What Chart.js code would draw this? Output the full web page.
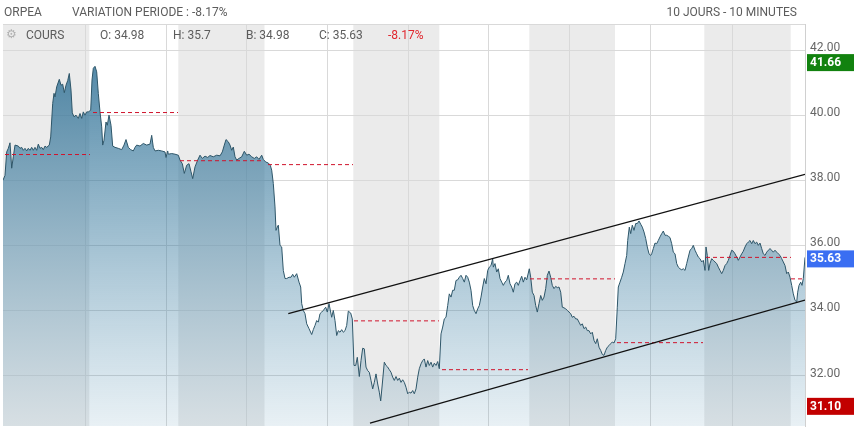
<!DOCTYPE html>
<html>
<head>
<meta charset="utf-8">
<script src="https://cdn.jsdelivr.net/npm/chart.js@4.4.1/dist/chart.umd.min.js"></script>
<style>
body{margin:0;background:#fff;font-family:Roboto,Arial,sans-serif;}
#wrap{position:relative;width:857px;height:428px;overflow:hidden;}
#wrap canvas{position:absolute;left:0;top:0;}
.lbl{position:absolute;font-size:12px;color:#5c5c5c;line-height:14px;white-space:nowrap;}
</style>
</head>
<body>
<div id="wrap">
<canvas id="myChart" width="857" height="428"></canvas>
<div class="lbl" style="left:4px;top:5px">ORPEA</div>
<div class="lbl" style="left:72px;top:5px">VARIATION PERIODE : -8.17%</div>
<div class="lbl" style="right:60px;top:5px">10 JOURS - 10 MINUTES</div>
<div class="lbl" style="left:6px;top:27px;color:#b0b0b0;font-family:'DejaVu Sans';font-size:12px">⚙</div>
<div class="lbl" style="left:26px;top:28px">COURS</div>
<div class="lbl" style="left:100px;top:28px">O: 34.98</div>
<div class="lbl" style="left:173px;top:28px">H: 35.7</div>
<div class="lbl" style="left:246px;top:28px">B: 34.98</div>
<div class="lbl" style="left:319px;top:28px">C: 35.63</div>
<div class="lbl" style="left:388px;top:28px;color:#e0262e">-8.17%</div>
</div>
<script>
// position sur l'axe du temps (barres de 10 minutes, 10 jours)
const times = [
0,2,3.7,5.3,7,8.7,10.3,12,15.3,17,
18.7,20.3,22,23.7,25.3,27,28.7,30.3,32,33.7,
35.3,37,38.7,40.3,42,43.7,46.3,47.7,49.7,51,
52,53.7,56.3,58,59.7,61.3,63,64.7,66.3,68,
69.3,71,73,75.3,77,78.7,80.3,82,83.7,85.3,
87.7,89,90.3,92,93.7,95.3,97,98.7,99.7,101,
103,104.3,106,108,109.7,112,115.3,118.7,121,123,
125.3,127.7,130.3,132,133.7,137,140.3,143.7,147,148.7,
150.3,152,155.3,158.7,162,163,164.7,165.3,168.7,172,
175.3,177,179.3,181.3,183.7,186,188,189.7,192,194.7,
197,199.3,202,204.7,207,210.3,213.7,217,219.3,221.3,
223,225.3,227,228.7,230.3,232,233.7,236,238.7,241.3,
243.7,246,248.7,251.3,253.7,256,258.7,260.3,262.7,265.3,
267.3,268.7,270.3,272,273,274.3,275.3,277,278.7,280.3,
282,283.7,286,288,289.7,291.3,293.7,296,297.7,298.7,
300.3,302,303.7,306,308.7,310.3,312,313.7,315.3,317,
318.7,320.3,322.7,324.3,326,328.7,330.3,332,333.7,335.3,
337,338.7,340.3,342,343.7,345.3,347.7,349.3,351,352.7,
354.3,356.3,358,359.7,361.3,363,364.7,366.3,368,369.7,
371.3,373,374.7,376.3,377.7,379.3,381.3,383,384.7,386.3,
388,389.7,391.3,393,394.7,396.3,398,399.7,401.3,403,
404.7,406.3,408,409.7,411.3,413,414.7,416.3,418,419.7,
421.3,423,424.7,426.3,428,429.7,431.3,433,434.7,436.3,
438,439.7,441.3,443,444.7,446.3,448,449.7,451.3,453,
454.7,456.3,458,459.7,461.3,463,464.7,466.3,468,469.7,
471.3,473,474.7,476.3,478,479.7,481.3,483,484.7,486.3,
488,489.7,490.3,492,493.7,495.3,497,498.7,500.3,502,
503.7,505.3,507,508.7,510.3,512,513.7,515.3,517,518.7,
520.3,522,523.7,526.3,527.7,529.3,531,532.7,534.3,536,
537.7,539.3,541,542.7,544.3,546,547.7,549.3,551,552.7,
554.3,556,557.7,559.3,561,562.7,564.3,566,567.7,569.3,
571,572.7,574.3,576,577.7,579.3,581,582.7,584.3,586,
587.7,589.3,591,592.7,594.3,596,597.7,599.3,601,602.7,
604.3,606,607.7,609.3,611,612.7,614.3,615.3,617,618.7,
620.3,622,623.7,624.7,626.3,627.7,629.3,631,632.7,634.3,
636,637.7,639.3,641,642.7,644.3,646,647.7,648.7,650.3,
652,653.7,655.3,657,658.7,660.3,662,663.7,665.3,667,
668.7,670.3,672,673.7,675.3,677,678.7,680.3,682,683.7,
685.3,687,688.7,690.3,692,693.7,695.3,697,698.7,700.3,
702,703,704.3,705.7,707,708.7,710.3,712,713.7,715.3,
717,718.7,720.3,722,723.7,725.3,727,728.7,730.3,732,
733.7,735.3,737,738.7,740.3,742,743.7,745.3,747,748.7,
750.3,752,753.7,755.3,757,758.7,760.3,762,763.7,765.3,
767,768.7,770.3,772,773.7,775.3,777,778.7,780.3,782,
783.7,785.3,787,788.7,790.3,792,793.7,794.7,796,797.7,
799,800.3,802
]
const prices = [
38.00,38.15,38.87,38.98,39.15,38.37,38.72,39.08,39.05,38.98,
39.01,38.92,38.98,38.90,38.98,38.92,39.01,38.92,39.01,38.92,
39.11,38.98,39.01,38.94,39.05,39.01,39.08,39.33,40.36,40.67,
40.56,40.87,41.10,40.92,40.95,40.69,40.92,41.06,41.28,40.77,
40.07,39.95,40.00,39.90,40.05,39.90,40.10,40.00,40.10,40.10,
40.15,41.08,41.44,41.50,41.33,40.67,40.10,39.64,39.08,39.23,
39.79,39.69,40.00,39.69,39.05,39.01,38.98,38.94,39.08,39.25,
39.01,38.94,38.90,39.01,39.08,39.05,39.13,39.08,39.11,39.38,
39.01,38.90,38.92,38.90,38.87,38.70,38.90,38.80,38.82,38.80,
38.77,38.62,38.51,38.21,38.46,38.51,38.26,38.05,38.41,38.62,
38.77,38.67,38.74,38.70,38.76,38.72,38.77,38.75,38.87,39.08,
39.25,39.18,39.08,38.92,39.02,38.72,38.62,38.67,38.72,38.89,
38.77,38.80,38.72,38.67,38.72,38.64,38.77,38.64,38.56,38.53,
38.46,38.31,37.90,37.18,36.46,36.56,36.62,36.00,35.95,35.23,
34.98,34.98,35.02,35.02,35.11,35.02,35.13,34.87,34.72,34.21,
34.00,33.90,33.59,33.44,33.26,33.41,33.54,33.69,33.64,33.90,
33.95,34.00,34.10,33.95,34.21,33.79,34.00,33.69,33.23,33.38,
33.33,33.41,33.33,33.38,33.54,33.98,33.92,33.74,32.31,32.31,
32.56,31.97,32.46,32.84,32.82,32.26,32.15,32.10,31.85,31.59,
31.79,32.05,31.74,31.49,31.22,31.74,32.41,32.31,32.26,32.18,
32.10,31.95,31.85,31.97,31.85,31.92,31.79,31.87,31.79,31.64,
31.44,31.49,31.46,31.54,31.44,31.59,31.95,32.21,32.36,32.46,
32.51,32.26,32.46,32.31,32.41,32.26,32.38,32.31,32.43,32.21,
33.28,33.49,33.74,33.79,34.15,34.51,34.41,34.62,34.62,34.92,
34.94,35.02,35.08,34.98,34.87,35.08,35.02,34.87,34.62,34.15,
34.00,33.90,34.05,34.15,34.41,34.72,34.98,34.82,35.23,35.33,
35.38,35.59,35.33,35.44,35.18,35.28,34.98,34.87,34.77,34.87,
34.92,35.08,34.82,34.72,34.56,34.82,34.87,34.77,34.92,35.05,
34.87,35.02,34.94,35.28,35.02,34.56,34.46,34.15,33.95,34.21,
34.46,34.31,34.41,34.67,35.08,35.21,35.02,34.77,34.67,34.74,
34.70,34.72,34.56,34.10,34.08,34.05,34.00,33.95,33.90,33.79,
33.82,33.74,33.74,33.64,33.54,33.59,33.44,33.49,33.38,33.38,
33.28,33.33,33.08,32.98,33.13,32.87,32.77,32.65,32.62,32.77,
32.87,32.92,32.98,33.03,33.00,33.13,34.10,34.72,34.87,35.02,
35.18,35.44,35.69,36.15,36.56,36.36,36.62,36.46,36.67,36.67,
36.75,36.65,36.56,36.41,36.21,35.95,35.74,35.69,35.74,35.90,
36.07,36.05,36.15,36.26,36.36,36.44,36.31,36.31,36.28,36.24,
36.05,35.79,35.74,35.44,35.33,35.28,35.25,35.28,35.23,35.44,
35.64,35.85,35.90,36.00,35.85,35.74,35.64,35.59,35.49,35.54,
35.23,35.95,35.69,35.23,35.44,35.59,35.54,35.49,35.44,35.33,
35.23,35.13,35.23,35.38,35.44,35.54,35.69,35.85,35.82,35.74,
35.64,35.54,35.64,35.74,35.82,35.95,36.05,36.10,36.15,36.05,
36.15,36.05,36.10,36.00,36.07,35.90,35.74,35.69,35.79,35.85,
35.90,35.85,35.79,35.85,35.79,35.74,35.69,35.59,35.49,35.38,
35.13,35.18,35.02,34.77,34.51,34.31,34.26,34.56,34.77,34.87,
34.77,34.98,35.63
]

// niveaux journaliers (pointillés rouges)
const levelStart = [2, 90, 177, 265, 351, 439, 527, 614, 703, 788]
const levelEnd = [87, 175, 261, 350, 436, 525, 612, 700, 788, 802]
const levelValue = [38.79, 40.08, 38.60, 38.48, 33.68, 32.18, 34.97, 33.01, 35.63, 34.97]

// canal haussier
const upperT = [285.3, 802]
const upperV = [33.90, 38.18]
const lowerT = [367, 802]
const lowerV = [30.54, 34.32]

// séances grisées
const bandStart = [0, 175.3, 350.3, 526.3, 701.3]
const bandEnd = [86.3, 261.5, 436.3, 612, 787.7]

const timeTicks = [82, 163, 244, 324, 405, 485, 566, 647, 729]
const yTicks = [32, 34, 36, 38, 40, 42]

// étiquettes de l'axe de droite
const tagValues = [41.66, 35.63, 31.10]
const tagColors = ['#12820f', '#3a6ef2', '#c20000']

const priceData = times.map((t, i) => ({x: t, y: prices[i]}))
const levelData = []
levelStart.forEach((s, i) => {
    levelData.push({x: s, y: levelValue[i]}, {x: levelEnd[i], y: levelValue[i]}, {x: levelEnd[i], y: null})
})

const backPlugin = {
    id: 'back',
    beforeDraw(chart) {
        const {ctx, chartArea: a, scales: {x}} = chart
        ctx.save()
        ctx.fillStyle = '#ebebeb'
        for (let i = 0; i < bandStart.length; i++) {
            const x0 = x.getPixelForValue(bandStart[i])
            const x1 = x.getPixelForValue(bandEnd[i])
            ctx.fillRect(x0, a.top, x1 - x0, a.bottom - a.top)
        }
        ctx.strokeStyle = '#d9d9d9'
        ctx.lineWidth = 1
        ctx.beginPath()
        ctx.moveTo(a.left, a.top + 0.5)
        ctx.lineTo(a.right, a.top + 0.5)
        ctx.stroke()
        ctx.restore()
    },
    afterDraw(chart) {
        const {ctx, scales: {y}} = chart
        ctx.save()
        ctx.font = 'bold 12px Roboto'
        ctx.textBaseline = 'middle'
        tagValues.forEach((v, i) => {
            const py = y.getPixelForValue(v)
            ctx.fillStyle = tagColors[i]
            ctx.fillRect(807, py - 7, 47, 17)
            ctx.fillStyle = '#fff'
            ctx.fillText(v.toFixed(2), 810, py + 2)
        })
        ctx.restore()
    }
}

Chart.defaults.font.family = 'Roboto'
Chart.defaults.font.size = 12
Chart.defaults.color = '#666'

const ctx = document.getElementById('myChart')
new Chart(ctx, {
    type: 'line',
    data: {
        datasets: [{
            data: priceData,
            borderColor: '#2e5669',
            borderWidth: 1,
            pointRadius: 0,
            tension: 0,
            fill: 'start',
            backgroundColor: (c) => {
                const a = c.chart.chartArea
                if (!a) return 'rgba(60,120,150,0.5)'
                const g = c.chart.ctx.createLinearGradient(0, a.top, 0, a.bottom)
                g.addColorStop(0, 'rgba(30,100,140,0.85)')
                g.addColorStop(1, 'rgba(70,135,170,0.12)')
                return g
            },
            order: 3
        }, {
            data: levelData,
            borderColor: '#d0142c',
            borderWidth: 1,
            borderDash: [4, 3],
            pointRadius: 0,
            fill: false,
            spanGaps: false,
            order: 2
        }, {
            data: upperT.map((t, i) => ({x: t, y: upperV[i]})),
            borderColor: '#111',
            borderWidth: 1.2,
            pointRadius: 0,
            fill: false,
            order: 1
        }, {
            data: lowerT.map((t, i) => ({x: t, y: lowerV[i]})),
            borderColor: '#111',
            borderWidth: 1.2,
            pointRadius: 0,
            fill: false,
            order: 1
        }]
    },
    options: {
        responsive: false,
        devicePixelRatio: 1,
        animation: false,
        layout: {padding: {left: 3, top: 24, right: 0, bottom: 0}},
        plugins: {legend: {display: false}, tooltip: {enabled: false}},
        scales: {
            x: {
                type: 'linear',
                min: 0,
                max: 802,
                afterBuildTicks: (s) => { s.ticks = timeTicks.map(v => ({value: v})) },
                afterFit: (s) => { s.height = 2; s.paddingLeft = 0; s.paddingRight = 0 },
                ticks: {display: false},
                grid: {color: '#d9d9d9', drawTicks: false},
                border: {display: false}
            },
            y: {
                position: 'right',
                min: 30.45,
                max: 42.8,
                afterBuildTicks: (s) => { s.ticks = yTicks.map(v => ({value: v})) },
                afterFit: (s) => { s.width = 52; s.paddingTop = 0; s.paddingBottom = 0 },
                ticks: {
                    padding: 5,
                    labelOffset: -2,
                    color: '#666',
                    callback: (v) => Number(v).toFixed(2)
                },
                grid: {color: '#d9d9d9', drawTicks: false},
                border: {display: true, color: '#d0d0d0'}
            }
        }
    },
    plugins: [backPlugin]
})
</script>
</body>
</html>
